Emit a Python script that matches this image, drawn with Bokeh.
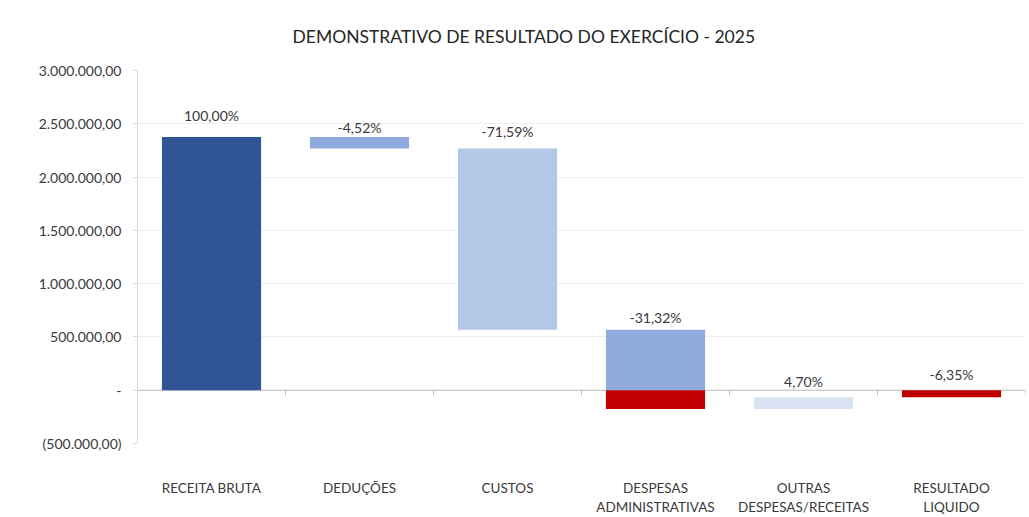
import numpy as np
from bokeh.plotting import figure
from bokeh.models import FixedTicker, Span, ColumnDataSource, Range1d, Title
from bokeh.core.properties import value
from bokeh.embed import file_html
from bokeh.resources import INLINE

# ---------------- data ----------------
title_text = "DEMONSTRATIVO DE RESULTADO DO EXERCÍCIO - 2025"
categories = ["RECEITA BRUTA", "DEDUÇÕES", "CUSTOS",
              "DESPESAS\nADMINISTRATIVAS", "OUTRAS\nDESPESAS/RECEITAS",
              "RESULTADO\nLIQUIDO"]
# first value is the starting total, the rest are changes
steps = [2376000, -107400, -1701000, -744200, 111700]
pct_labels = ["100,00%", "-4,52%", "-71,59%", "-31,32%", "4,70%", "-6,35%"]
y_ticks = [-500000, 0, 500000, 1000000, 1500000, 2000000, 2500000, 3000000]
y_tick_labels = ["(500.000,00)", "-", "500.000,00", "1.000.000,00",
                 "1.500.000,00", "2.000.000,00", "2.500.000,00", "3.000.000,00"]

# ---------------- styles ----------------
pos_colors = ["#2F5597", "#8FAADC", "#B4C7E7", "#8FAADC", "#DAE3F3", "#C00000"]
neg_colors = ["#2F5597", "#8FAADC", "#B4C7E7", "#C00000", "#DAE3F3", "#C00000"]
label_offsets = [-22, -10, -17, -12, -16, -16]
FONT = "Lato"
TXT = "#3A3A3A"

# ---------------- waterfall geometry ----------------
cum = np.cumsum(steps)
result = cum[-1]
bottoms = [0.0] + list(cum[:-1]) + [0.0]
tops = list(cum) + [result]
n = len(categories)
xs = np.arange(n)

seg_x, seg_b, seg_t, seg_c = [], [], [], []
for i in range(n):
    lo, hi = min(bottoms[i], tops[i]), max(bottoms[i], tops[i])
    if hi > 0:
        seg_x.append(xs[i]); seg_b.append(max(lo, 0)); seg_t.append(hi); seg_c.append(pos_colors[i])
    if lo < 0:
        seg_x.append(xs[i]); seg_b.append(lo); seg_t.append(min(hi, 0)); seg_c.append(neg_colors[i])

bars = ColumnDataSource(dict(x=seg_x, bottom=seg_b, top=seg_t, color=seg_c))
labels = ColumnDataSource(dict(x=xs, y=[max(b, t) for b, t in zip(bottoms, tops)],
                               text=pct_labels, yoff=label_offsets))

p = figure(width=1029, height=517, output_backend="svg", toolbar_location=None,
           x_range=Range1d(-0.5, n - 0.5), y_range=Range1d(y_ticks[0], y_ticks[-1]),
           min_border_left=137, min_border_right=4, min_border_top=70, min_border_bottom=74,
           title=None)
p.outline_line_color = None
p.background_fill_color = "white"
p.border_fill_color = "white"

spacer = Title(text=" ", text_font_size="7px")
p.add_layout(spacer, "above")
ttl = Title(text=title_text, text_font=FONT, text_font_size="17.5px",
            text_font_style="normal", text_color="#262626", align="left", offset=155)
p.add_layout(ttl, "above")

# zero line and category boundary ticks
zero = Span(location=0, dimension="width", line_color="#BFBFBF", line_width=1, level="underlay")
p.add_layout(zero)
bounds = np.arange(n + 1) - 0.5
tick_len = 47000
p.segment(x0=bounds, y0=[0] * (n + 1), x1=bounds, y1=[-tick_len] * (n + 1),
          line_color="#BFBFBF", line_width=1)

p.vbar(x="x", bottom="bottom", top="top", width=0.67, fill_color="color",
       line_color=None, source=bars)

p.text(x="x", y="y", text="text", y_offset="yoff", source=labels,
       text_align="center", text_baseline="middle", text_font=value(FONT),
       text_font_size="14px", text_color=TXT)

# y axis
ya = p.yaxis[0]
ya.ticker = FixedTicker(ticks=y_ticks)
ya.major_label_overrides = {t: l for t, l in zip(y_ticks, y_tick_labels)}
ya.axis_line_color = "#D9D9D9"
ya.major_tick_line_color = "#D9D9D9"
ya.major_tick_out = 4
ya.major_tick_in = 0
ya.minor_tick_line_color = None
ya.major_label_standoff = 12
ya.major_label_text_font = FONT
ya.major_label_text_font_size = "14px"
ya.major_label_text_color = TXT

# x axis
xa = p.xaxis[0]
xa.ticker = FixedTicker(ticks=list(xs))
xa.major_label_overrides = {int(i): c for i, c in zip(xs, categories)}
xa.axis_line_color = None
xa.major_tick_line_color = None
xa.minor_tick_line_color = None
xa.major_tick_out = 0
xa.major_tick_in = 0
xa.major_label_standoff = 36
xa.major_label_text_font = FONT
xa.major_label_text_font_size = "13.5px"
xa.major_label_text_color = TXT
xa.major_label_text_align = "center"

p.xgrid.grid_line_color = None
p.ygrid.ticker = FixedTicker(ticks=y_ticks)
p.ygrid.grid_line_color = "#EEEEEE"

open("out.html", "w").write(file_html(p, INLINE))
